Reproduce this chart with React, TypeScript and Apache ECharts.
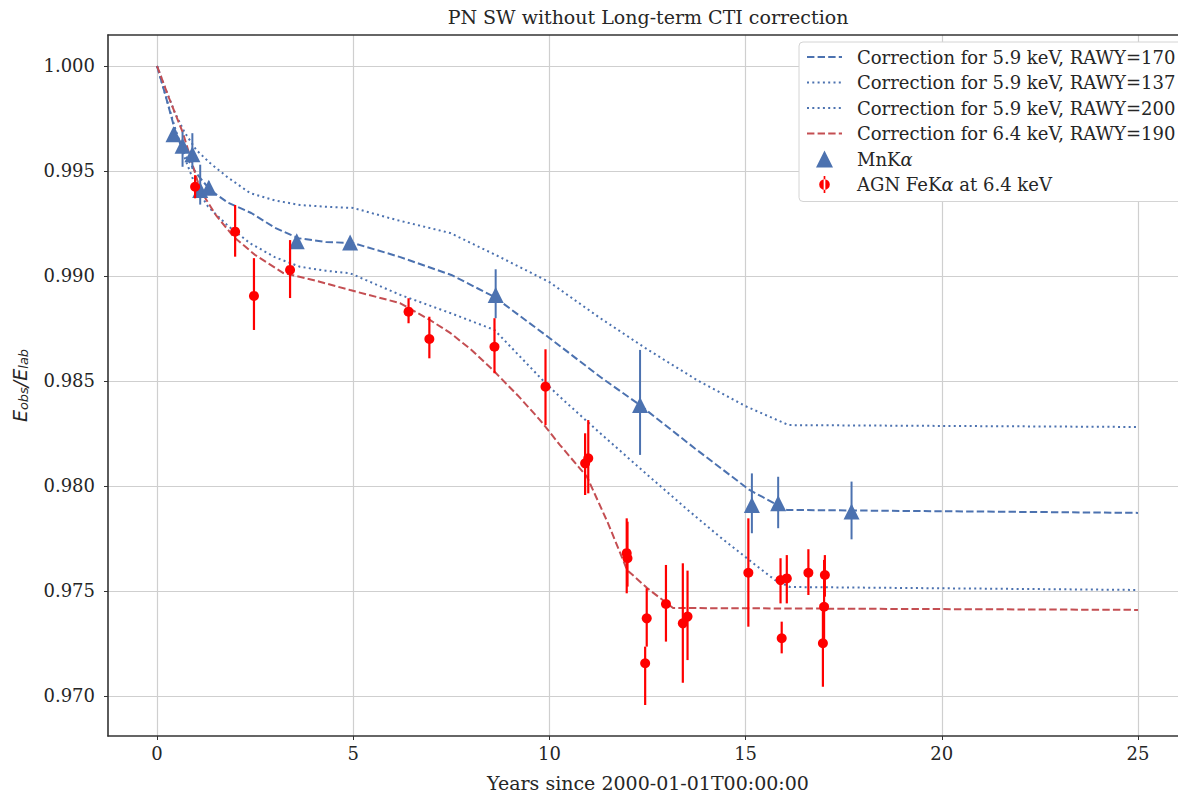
import React, { useEffect, useRef } from 'react';
import * as echarts from 'echarts';

// ---------- Axis ticks ----------
const xTicks = [0, 5, 10, 15, 20, 25];
const yTicks = [0.97, 0.975, 0.98, 0.985, 0.99, 0.995, 1.0];

// ---------- Correction curves [years, Eobs/Elab] ----------
const rawy170 = [
  [0, 1.0], [0.2, 0.9987], [0.45, 0.997], [0.7, 0.9958], [1.0, 0.9949], [1.35, 0.9941],
  [1.8, 0.9935], [2.4, 0.993], [3.0, 0.9923], [3.6, 0.9918], [4.3, 0.99162], [5.0, 0.99157],
  [6.2, 0.9909], [7.5, 0.99005], [8.6, 0.989], [10.0, 0.98705], [11.3, 0.98519], [12.3, 0.98386],
  [13.7, 0.9818], [15.1, 0.97981], [16.05, 0.97886], [25, 0.97872],
];
const rawy137 = [
  [0, 1.0], [0.2, 0.999], [0.45, 0.9978], [0.7, 0.99685], [1.0, 0.996], [1.35, 0.99538],
  [1.8, 0.9947], [2.37, 0.99395], [3.0, 0.9936], [3.64, 0.99338], [4.3, 0.9933], [5.0, 0.99324],
  [6.1, 0.99267], [7.47, 0.99205], [8.74, 0.9909], [10.0, 0.98971], [11.29, 0.988], [12.5, 0.9865],
  [13.8, 0.985], [15.0, 0.9838], [16.1, 0.9829], [25, 0.98281],
];
const rawy200 = [
  [0, 1.0], [0.2, 0.9987], [0.45, 0.9971], [0.7, 0.99565], [1.0, 0.9942], [1.3, 0.9933],
  [1.8, 0.9924], [2.37, 0.99156], [3.0, 0.9909], [3.64, 0.99044], [4.3, 0.99025], [4.92, 0.99013],
  [6.2, 0.9891], [7.47, 0.98824], [8.6, 0.98743], [9.9, 0.9849], [10.27, 0.98424], [11.29, 0.98252],
  [12.56, 0.98043], [13.5, 0.9789], [14.35, 0.97757], [15.19, 0.97633], [15.75, 0.97552],
  [16.13, 0.97519], [25, 0.97505],
];
const rawy190 = [
  [0, 1.0], [0.3, 0.9985], [0.66, 0.99681], [1.1, 0.9941], [1.5, 0.9929], [1.95, 0.99187],
  [2.5, 0.991], [3.22, 0.99014], [4.0, 0.9898], [4.92, 0.98933], [6.19, 0.98871], [6.96, 0.9879],
  [7.47, 0.98729], [8.0, 0.9865], [8.56, 0.98552], [9.2, 0.9843], [9.76, 0.98314], [10.27, 0.98195],
  [10.96, 0.98043], [11.5, 0.9782], [11.98, 0.976], [12.49, 0.97514], [13.15, 0.97419], [25, 0.9741],
];

// ---------- MnKα calibration points ----------
const mnX = [0.42, 0.65, 0.9, 1.1, 1.32, 3.56, 4.92, 8.63, 12.31, 15.16, 15.83, 17.7];
const mnY = [0.99675, 0.9962, 0.9958, 0.9941, 0.9942, 0.99165, 0.9916, 0.9891, 0.98386, 0.9791, 0.97918, 0.97878];
const mnLo = [0.9965, 0.9952, 0.9951, 0.9934, 0.9939, 0.9915, 0.9914, 0.98799, 0.98148, 0.97775, 0.97799, 0.97746];
const mnHi = [0.997, 0.99687, 0.9968, 0.9953, 0.9945, 0.9918, 0.9918, 0.99032, 0.98648, 0.9806, 0.98044, 0.98021];

// ---------- AGN FeKα points ----------
const agnX = [0.97, 1.99, 2.47, 3.39, 6.41, 6.94, 8.6, 9.9, 10.91, 10.99, 11.97, 11.99, 12.48, 12.44,
  12.97, 13.4, 13.52, 15.07, 15.89, 16.05, 15.92, 16.6, 17.02, 17.0, 16.97];
const agnY = [0.99425, 0.99211, 0.98905, 0.99029, 0.9883, 0.987, 0.98663, 0.98473, 0.98108, 0.98132,
  0.9768, 0.97656, 0.9737, 0.97156, 0.97438, 0.97346, 0.97378, 0.97587, 0.97552, 0.9756, 0.97275,
  0.97587, 0.97576, 0.97425, 0.97251];
const agnLo = [0.9937, 0.99092, 0.98743, 0.98895, 0.98775, 0.98608, 0.98537, 0.9829, 0.97957, 0.97965,
  0.97489, 0.97521, 0.97235, 0.96957, 0.97259, 0.97063, 0.97171, 0.9733, 0.97441, 0.97441, 0.97203,
  0.97481, 0.97473, 0.97267, 0.97044];
const agnHi = [0.9948, 0.99338, 0.99085, 0.99171, 0.98894, 0.98806, 0.98799, 0.98651, 0.98251, 0.98314,
  0.97846, 0.9783, 0.97513, 0.97235, 0.97624, 0.97632, 0.97597, 0.97846, 0.97656, 0.97671, 0.97354,
  0.97699, 0.97671, 0.97648, 0.97425];

const NAME170 = 'Correction for 5.9 keV, RAWY=170';
const NAME137 = 'Correction for 5.9 keV, RAWY=137';
const NAME200 = 'Correction for 5.9 keV, RAWY=200';
const NAME190 = 'Correction for 6.4 keV, RAWY=190';
const NAME_MN = 'MnKα';
const NAME_AGN = 'AGN FeKα at 6.4 keV';

const BLUE = '#4C72B0';
const RED_LINE = '#C44E52';
const RED = '#ff0000';
const TEXT = '#262626';
const SERIF = "'DejaVu Serif', serif";
const SANS = "'DejaVu Sans', sans-serif";

const DASHED = [7.4, 3.2];
const DOTTED = [2, 3.3];

function lineSeries(name: string, data: number[][], color: string, dash: number[]) {
  return {
    type: 'line',
    name,
    data,
    symbol: 'none',
    showSymbol: false,
    z: 2,
    lineStyle: { color, width: 2, type: dash },
    itemStyle: { color },
  };
}

function errSeries(name: string, xs: number[], lo: number[], hi: number[], color: string, width: number, z: number) {
  return {
    type: 'custom',
    name,
    z,
    silent: true,
    data: xs.map((x, i) => [x, lo[i], hi[i]]),
    encode: { x: 0, y: [1, 2] },
    renderItem: (params: any, api: any) => {
      const x = api.value(0);
      const a = api.coord([x, api.value(1)]);
      const b = api.coord([x, api.value(2)]);
      return {
        type: 'line',
        shape: { x1: a[0], y1: a[1], x2: b[0], y2: b[1] },
        style: { stroke: color, lineWidth: width },
      };
    },
  };
}

export default function App() {
  const ref = useRef<HTMLDivElement>(null);
  useEffect(() => {
    const chart = echarts.init(ref.current!, null, { renderer: 'svg' });
    const option: any = {
      animation: false,
      backgroundColor: '#ffffff',
      grid: { left: 108, top: 35, right: 0, bottom: 57, containLabel: false },
      graphic: [
        {
          type: 'text',
          x: 648,
          y: 17,
          style: {
            text: 'PN SW without Long-term CTI correction',
            fontFamily: SERIF,
            fontSize: 19,
            fill: TEXT,
            textAlign: 'center',
            textVerticalAlign: 'middle',
          },
        },
        {
          type: 'text',
          x: 648,
          y: 783,
          style: {
            text: 'Years since 2000-01-01T00:00:00',
            fontFamily: SERIF,
            fontSize: 19,
            fill: TEXT,
            textAlign: 'center',
            textVerticalAlign: 'middle',
          },
        },
      ],
      xAxis: [
        {
          type: 'value',
          min: -1.25,
          max: 26.02,
          axisLine: { show: true, onZero: false, lineStyle: { color: '#333333', width: 1.6 } },
          axisTick: { show: true, customValues: xTicks, length: 4, lineStyle: { color: '#333333' } },
          axisLabel: {
            customValues: xTicks,
            formatter: (v: number) => String(v),
            fontFamily: SERIF,
            fontSize: 18,
            color: TEXT,
            margin: 8,
          },
          splitLine: { show: true, lineStyle: { color: '#cfcfcf', width: 1.2 } },
        },
        {
          type: 'value',
          position: 'top',
          min: -1.25,
          max: 26.02,
          axisLine: { show: true, onZero: false, lineStyle: { color: '#333333', width: 1.6 } },
          axisTick: { show: false },
          axisLabel: { show: false },
          splitLine: { show: false },
        },
      ],
      yAxis: {
        type: 'value',
        min: 0.968095,
        max: 1.001476,
        name: '{i|E}{s|obs}{i|/E}{s|lab}',
        nameLocation: 'middle',
        nameGap: 78,
        nameTextStyle: {
          fontFamily: SANS,
          fontSize: 19,
          color: TEXT,
          rich: {
            i: { fontFamily: SANS, fontStyle: 'italic', fontSize: 19, color: TEXT },
            s: {
              fontFamily: SANS,
              fontStyle: 'italic',
              fontSize: 13,
              color: TEXT,
              padding: [8, 0, 0, 0],
            },
          },
        },
        axisLine: { show: true, onZero: false, lineStyle: { color: '#333333', width: 1.6 } },
        axisTick: { show: true, customValues: yTicks, length: 4, lineStyle: { color: '#333333' } },
        axisLabel: {
          customValues: yTicks,
          formatter: (v: number) => v.toFixed(3),
          fontFamily: SERIF,
          fontSize: 18,
          color: TEXT,
          margin: 13,
        },
        splitLine: { show: true, lineStyle: { color: '#cfcfcf', width: 1.2 } },
      },
      legend: {
        left: 799,
        top: 42,
        orient: 'vertical',
        padding: [6, 12, 8, 7],
        itemWidth: 35,
        itemHeight: 17,
        itemGap: 7.5,
        backgroundColor: '#ffffff',
        borderColor: '#d4d4d4',
        borderWidth: 1,
        borderRadius: 4,
        textStyle: {
          fontFamily: SERIF,
          fontSize: 18,
          lineHeight: 18,
          color: TEXT,
          padding: [0, 0, 0, 10],
          rich: {
            g: { fontFamily: SERIF, fontStyle: 'italic', fontSize: 18, lineHeight: 18, color: TEXT },
          },
        },
        formatter: (name: string) => name.replace('α', '{g|α}'),
        data: [
          { name: NAME170, itemStyle: { opacity: 0 } },
          { name: NAME137, itemStyle: { opacity: 0 } },
          { name: NAME200, itemStyle: { opacity: 0 } },
          { name: NAME190, itemStyle: { opacity: 0 } },
          { name: NAME_MN, icon: 'path://M5,0L10,10L0,10Z' },
          {
            name: NAME_AGN,
            icon: 'path://M4.2,0H5.8V16H4.2Z M0,8A5,5 0 1,0 10,8A5,5 0 1,0 0,8Z',
          },
        ],
      },
      series: [
        lineSeries(NAME170, rawy170, BLUE, DASHED),
        lineSeries(NAME137, rawy137, BLUE, DOTTED),
        lineSeries(NAME200, rawy200, BLUE, DOTTED),
        lineSeries(NAME190, rawy190, RED_LINE, DASHED),
        errSeries('mnErr', mnX, mnLo, mnHi, BLUE, 2, 3),
        {
          type: 'scatter',
          name: NAME_MN,
          data: mnX.map((x, i) => [x, mnY[i]]),
          symbol: 'triangle',
          symbolSize: 16,
          z: 4,
          itemStyle: { color: BLUE, opacity: 1 },
        },
        errSeries('agnErr', agnX, agnLo, agnHi, RED, 2.2, 5),
        {
          type: 'scatter',
          name: NAME_AGN,
          data: agnX.map((x, i) => [x, agnY[i]]),
          symbol: 'circle',
          symbolSize: 10,
          z: 6,
          itemStyle: { color: RED, opacity: 1 },
        },
      ],
    };
    chart.setOption(option);
    return () => chart.dispose();
  }, []);
  return (
    <div
      ref={ref}
      style={{ position: 'absolute', left: 0, top: 0, width: 1178, height: 793, background: '#fff' }}
    />
  );
}
